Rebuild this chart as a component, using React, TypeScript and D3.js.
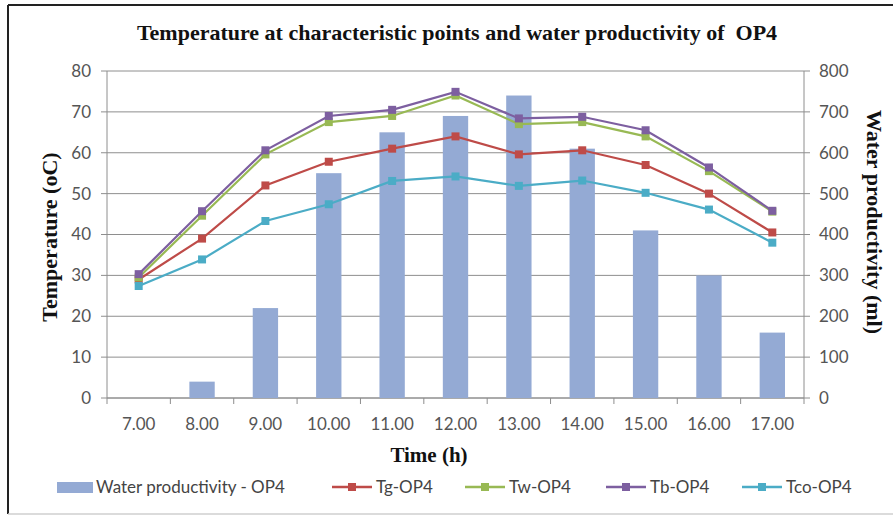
import React from "react";
import * as d3 from "d3";

const categories = ["7.00", "8.00", "9.00", "10.00", "11.00", "12.00", "13.00", "14.00", "15.00", "16.00", "17.00"];
const waterProductivity = [0, 40, 220, 550, 650, 690, 740, 610, 410, 300, 160];
const tg = [29, 39, 52, 57.8, 61, 64, 59.6, 60.6, 57, 50, 40.5];
const tw = [29.5, 44.6, 59.6, 67.5, 69, 74, 67, 67.5, 64, 55.5, 45.6];
const tb = [30.3, 45.7, 60.6, 69, 70.5, 74.9, 68.4, 68.8, 65.5, 56.4, 45.8];
const tco = [27.4, 33.9, 43.3, 47.4, 53.1, 54.2, 51.9, 53.2, 50.2, 46.1, 38];
const leftTicks = [0, 10, 20, 30, 40, 50, 60, 70, 80];
const rightTicks = [0, 100, 200, 300, 400, 500, 600, 700, 800];

const lineSeries = [
  { name: "Tg-OP4", values: tg, color: "#BE4B48" },
  { name: "Tw-OP4", values: tw, color: "#98B954" },
  { name: "Tb-OP4", values: tb, color: "#7D5FA0" },
  { name: "Tco-OP4", values: tco, color: "#4BACC6" },
];

const W = 895, H = 516;
const PL = 107, PR = 804, PT = 71, PB = 398;
const barColor = "#94AAD4";
const sans = "Lato, 'Open Sans', sans-serif";
const serif = "'Liberation Serif', 'DejaVu Serif', serif";

export default function App() {
  const x = d3.scaleBand<string>().domain(categories).range([PL, PR]).paddingInner(0.6).paddingOuter(0.3);
  const step = x.step();
  const cx = (c: string) => (x(c) as number) + x.bandwidth() / 2;
  const yL = d3.scaleLinear().domain([0, 80]).range([PB, PT]);
  const yR = d3.scaleLinear().domain([0, 800]).range([PB, PT]);
  const line = d3.line<number>().x((_, i) => cx(categories[i])).y((v) => yL(v));

  const legendLines = [
    { s: lineSeries[0], x0: 332 },
    { s: lineSeries[1], x0: 465 },
    { s: lineSeries[2], x0: 606 },
    { s: lineSeries[3], x0: 742 },
  ];
  const ly = 487;

  return (
    <svg width={W} height={H} style={{ position: "absolute", left: 0, top: 0, background: "#fff" }}>
      <rect x={0} y={0} width={W} height={H} fill="#fff" />
      {/* frame */}
      <line x1={8} y1={5} x2={893} y2={5} stroke="#222" strokeWidth={2} />
      <line x1={8} y1={5} x2={8} y2={514} stroke="#222" strokeWidth={2} />
      <line x1={8} y1={514} x2={893} y2={514} stroke="#cfcfcf" strokeWidth={1.5} />

      <text x={457} y={40} textAnchor="middle" fontFamily={serif} fontWeight="bold" fontSize={22} fill="#111" style={{ whiteSpace: "pre" }}>
        {"Temperature at characteristic points and water productivity of  OP4"}
      </text>

      {/* gridlines */}
      {leftTicks.map((t) => (
        <line key={"g" + t} x1={PL} x2={PR} y1={yL(t)} y2={yL(t)} stroke="#8e8e8e" strokeWidth={1} />
      ))}
      {/* axes */}
      <line x1={PL} x2={PL} y1={PT} y2={PB} stroke="#8e8e8e" />
      <line x1={PR} x2={PR} y1={PT} y2={PB} stroke="#8e8e8e" />
      <line x1={PL} x2={PR} y1={PB} y2={PB} stroke="#8e8e8e" />
      {leftTicks.map((t) => (
        <g key={"l" + t}>
          <line x1={PL - 6} x2={PL} y1={yL(t)} y2={yL(t)} stroke="#8e8e8e" />
          <text x={91} y={yL(t)} dy="0.35em" textAnchor="end" fontFamily={sans} fontSize={17} fill="#555">{t}</text>
        </g>
      ))}
      {rightTicks.map((t) => (
        <g key={"r" + t}>
          <line x1={PR} x2={PR + 6} y1={yR(t)} y2={yR(t)} stroke="#8e8e8e" />
          <text x={819} y={yR(t)} dy="0.35em" textAnchor="start" fontFamily={sans} fontSize={17} fill="#555">{t}</text>
        </g>
      ))}
      {categories.map((c, i) => (
        <line key={"xt" + c} x1={PL + step * i} x2={PL + step * i} y1={PB} y2={PB + 6} stroke="#8e8e8e" />
      ))}
      <line x1={PR} x2={PR} y1={PB} y2={PB + 6} stroke="#8e8e8e" />
      {categories.map((c) => (
        <text key={"xl" + c} x={cx(c)} y={430} textAnchor="middle" fontFamily={sans} fontSize={17} fill="#555">{c}</text>
      ))}

      {/* bars */}
      {categories.map((c, i) => (
        <rect key={"b" + c} x={x(c)} y={yR(waterProductivity[i])} width={x.bandwidth()} height={PB - yR(waterProductivity[i])} fill={barColor} />
      ))}

      {/* lines */}
      {lineSeries.map((s) => (
        <g key={s.name}>
          <path d={line(s.values) || ""} fill="none" stroke={s.color} strokeWidth={2.2} />
          {s.values.map((v, i) => (
            <rect key={i} x={cx(categories[i]) - 4} y={yL(v) - 4} width={8} height={8} fill={s.color} />
          ))}
        </g>
      ))}

      {/* axis titles */}
      <text transform={`translate(57,237) rotate(-90)`} textAnchor="middle" fontFamily={serif} fontWeight="bold" fontSize={22} fill="#111">Temperature (oC)</text>
      <text transform={`translate(867,222) rotate(90)`} textAnchor="middle" fontFamily={serif} fontWeight="bold" fontSize={22} fill="#111">Water productivity (ml)</text>
      <text x={429} y={462} textAnchor="middle" fontFamily={serif} fontWeight="bold" fontSize={21} fill="#111">Time (h)</text>

      {/* legend */}
      <rect x={57} y={482} width={36} height={11} fill={barColor} />
      <text x={96} y={ly} dy="0.35em" fontFamily={sans} fontSize={17} fill="#444">Water productivity - OP4</text>
      {legendLines.map(({ s, x0 }) => (
        <g key={"lg" + s.name}>
          <line x1={x0} x2={x0 + 40} y1={ly} y2={ly} stroke={s.color} strokeWidth={2.5} />
          <rect x={x0 + 16} y={ly - 4} width={8} height={8} fill={s.color} />
          <text x={x0 + 44} y={ly} dy="0.35em" fontFamily={sans} fontSize={17} fill="#444">{s.name}</text>
        </g>
      ))}
    </svg>
  );
}
